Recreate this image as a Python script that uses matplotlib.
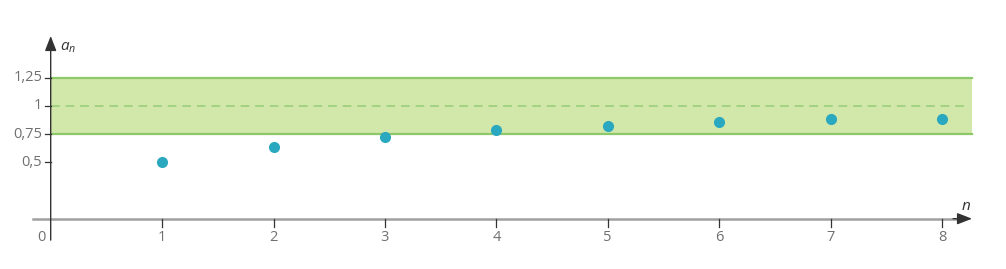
import matplotlib
matplotlib.use('Agg')
import matplotlib.pyplot as plt

# values
n_vals = [1, 2, 3, 4, 5, 6, 7, 8]
a_vals = [0.5, 0.634, 0.727, 0.785, 0.826, 0.861, 0.88, 0.886]
y_ticks = [0.5, 0.75, 1, 1.25]
y_labels = ['0,5', '0,75', '1', '1,25']
band_low, band_mid, band_high = 0.75, 1, 1.25

plt.rcParams['font.family'] = ['Open Sans', 'DejaVu Sans']
plt.rcParams['mathtext.fontset'] = 'custom'
plt.rcParams['mathtext.it'] = 'Open Sans:italic'
plt.rcParams['mathtext.rm'] = 'Open Sans'
txt = '#707070'
axc = '#333333'

fig = plt.figure(figsize=(10.06, 2.69), dpi=100)
ax = fig.add_axes([0, 0, 1, 1])
ax.set_xlim(-0.455, 8.575)
ax.set_ylim(-0.446, 1.939)
ax.axis('off')

# green band
x_end = 8.27
ax.fill_between([0, x_end], band_low, band_high, color='#d2e7aa', lw=0, zorder=1)
ax.plot([0, x_end], [band_low, band_low], color='#8dc86b', lw=1.6, zorder=2)
ax.plot([0, x_end], [band_high, band_high], color='#8dc86b', lw=1.6, zorder=2)
ax.plot([0, x_end - 0.05], [band_mid, band_mid], color='#a2d282', lw=1.4,
        dashes=(4.5, 3), zorder=2)

# axes
ax.plot([-0.16, 8.15], [0, 0], color='#a0a0a0', lw=1.8, zorder=2)
ax.annotate('', xy=(8.27, 0), xytext=(8.1, 0),
            arrowprops=dict(arrowstyle='-|>,head_length=0.9,head_width=0.35',
                            color=axc, lw=1.0, shrinkA=0, shrinkB=0), zorder=3)
ax.annotate('', xy=(0, 1.62), xytext=(0, -0.19),
            arrowprops=dict(arrowstyle='-|>,head_length=0.9,head_width=0.35',
                            color=axc, lw=1.0, shrinkA=0, shrinkB=0), zorder=3)

# ticks and labels
for n in n_vals:
    ax.plot([n, n], [0, -0.07], color=axc, lw=0.9, zorder=3)
    ax.text(n, -0.17, str(n), ha='center', va='center', fontsize=10.5, color=txt)
ax.text(-0.08, -0.17, '0', ha='center', va='center', fontsize=10.5, color=txt)
for yv, lab in zip(y_ticks, y_labels):
    ax.plot([-0.05, 0], [yv, yv], color=axc, lw=0.9, zorder=3)
    ax.text(-0.075, yv, lab, ha='right', va='center', fontsize=10.5, color=txt)

ax.text(0.08, 1.52, '$a_n$', ha='left', va='center', fontsize=11, color=axc)
ax.text(8.22, 0.11, '$n$', ha='center', va='center', fontsize=11, color=axc)

# sequence points
ax.plot(n_vals, a_vals, 'o', color='#29a8bf', markersize=8, mec='none', zorder=4)

fig.savefig('out.png', dpi=100)
